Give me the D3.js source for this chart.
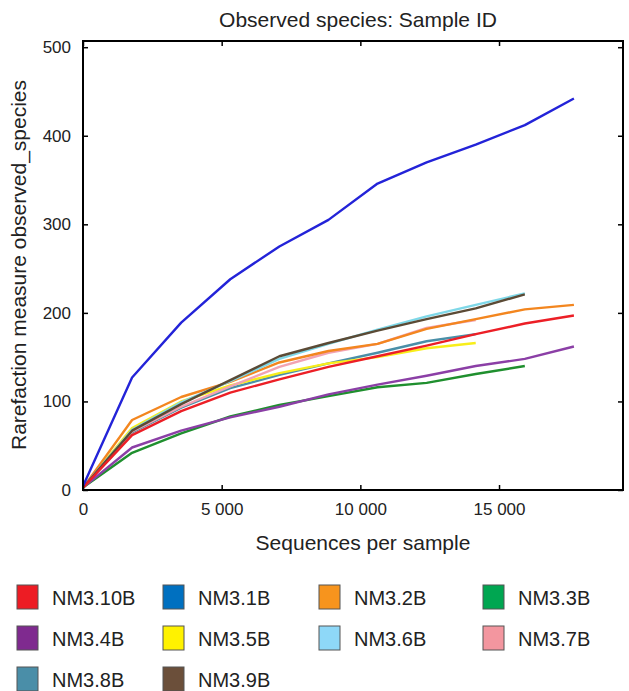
<!DOCTYPE html>
<html lang="en">
<head>
    <meta charset="UTF-8">
    <title>Observed species</title>
    <style>
        body { margin: 0; background: #ffffff; overflow: hidden; }
        svg { font-family: "Liberation Sans", Arial, sans-serif; display: block; }
        .tick text { font-size: 17px; fill: #222; }
        .line { fill: none; stroke-width: 2.4px; stroke-linejoin: round; }
    </style>
</head>
<body>
    <script src="https://d3js.org/d3.v7.min.js"></script>
    <script>
        var width = 629;
        var height = 691;

        // rarefaction depths (sequences per sample)
        var depths = [10, 1770, 3540, 5310, 7080, 8850, 10620, 12390, 14160, 15930, 17700];

        // observed species per depth, one array per sample
        var samples = ["NM3.10B", "NM3.1B", "NM3.2B", "NM3.3B", "NM3.4B",
                       "NM3.5B", "NM3.6B", "NM3.7B", "NM3.8B", "NM3.9B"];
        var nm310b = [3, 62, 89, 110, 125, 139, 151, 163, 176, 188, 197];
        var nm31b  = [5, 127, 189, 238, 275, 305, 346, 370, 390, 412, 442];
        var nm32b  = [3, 79, 105, 122, 144, 157, 165, 182, 193, 204, 209];
        var nm33b  = [3, 42, 64, 83, 96, 106, 116, 121, 131, 140];
        var nm34b  = [3, 48, 67, 82, 94, 108, 119, 129, 140, 148, 162];
        var nm35b  = [3, 70, 100, 118, 132, 143, 150, 160, 166];
        var nm36b  = [3, 68, 99, 123, 148, 165, 181, 196, 209, 222];
        var nm37b  = [3, 66, 94, 117, 139, 155, 165, 183, 192];
        var nm38b  = [3, 65, 93, 115, 130, 143, 155, 168, 176];
        var nm39b  = [3, 67, 97, 124, 151, 166, 180, 193, 205, 221];

        var legendColors = ["#ed1c24", "#0070c0", "#f7941d", "#00a651", "#7f2a8f",
                            "#fff200", "#8ed8f8", "#f3969f", "#4a8ea8", "#6b4f3a"];
        var lineColors = ["#ec1f26", "#2323d8", "#f3861f", "#1f8f2e", "#8b3fa6",
                          "#f8ee1a", "#7fd8e8", "#f2a3b3", "#4a8fa8", "#5b4a35"];

        var xTicks = [0, 5000, 10000, 15000];
        var yTicks = [0, 100, 200, 300, 400, 500];

        var series = [nm310b, nm31b, nm32b, nm33b, nm34b, nm35b, nm36b, nm37b, nm38b, nm39b];

        var margin = { left: 83, right: 623, top: 41, bottom: 490 };

        var x = d3.scaleLinear().domain([0, 19470]).range([margin.left, margin.right]);
        var y = d3.scaleLinear().domain([0, 507]).range([margin.bottom, margin.top]);

        var svg = d3.select('body').append('svg')
            .attr('width', width)
            .attr('height', height);

        // title
        svg.append('text')
            .attr('x', 358).attr('y', 27)
            .attr('text-anchor', 'middle')
            .style('font-size', '21px').style('fill', '#222')
            .text('Observed species: Sample ID');

        // lines, drawn so the upper ones sit on top like the original
        var drawOrder = [3, 4, 8, 5, 7, 2, 6, 9, 0, 1];
        var line = d3.line()
            .x(function(d) { return x(d[0]); })
            .y(function(d) { return y(d[1]); });

        drawOrder.forEach(function(i) {
            var pts = series[i].map(function(v, j) { return [depths[j], v]; });
            svg.append('path')
                .attr('class', 'line')
                .attr('d', line(pts))
                .style('stroke', lineColors[i]);
        });

        // axes, ticks pointing inwards on all four sides
        var fmt = function(d) { return d3.format(',')(d).replace(/,/g, ' '); };

        svg.append('g')
            .attr('transform', 'translate(0,' + margin.bottom + ')')
            .call(d3.axisBottom(x).tickValues(xTicks).tickFormat(fmt).tickSizeInner(-5).tickSizeOuter(0).tickPadding(13))
            .call(function(g) { g.select('.domain').remove(); });
        svg.append('g')
            .attr('transform', 'translate(0,' + margin.top + ')')
            .call(d3.axisTop(x).tickValues(xTicks).tickFormat('').tickSizeInner(-5).tickSizeOuter(0))
            .call(function(g) { g.select('.domain').remove(); });
        svg.append('g')
            .attr('transform', 'translate(' + margin.left + ',0)')
            .call(d3.axisLeft(y).tickValues(yTicks).tickSizeInner(-5).tickSizeOuter(0).tickPadding(12))
            .call(function(g) { g.select('.domain').remove(); });
        svg.append('g')
            .attr('transform', 'translate(' + margin.right + ',0)')
            .call(d3.axisRight(y).tickValues(yTicks).tickFormat('').tickSizeInner(-5).tickSizeOuter(0))
            .call(function(g) { g.select('.domain').remove(); });

        svg.selectAll('.tick line').style('stroke', '#000').style('stroke-width', 1.5);

        svg.append('rect')
            .attr('x', margin.left).attr('y', margin.top)
            .attr('width', margin.right - margin.left)
            .attr('height', margin.bottom - margin.top)
            .style('fill', 'none').style('stroke', '#000').style('stroke-width', 2);

        // axis titles
        svg.append('text')
            .attr('x', 363).attr('y', 550)
            .attr('text-anchor', 'middle')
            .style('font-size', '21px').style('fill', '#222')
            .text('Sequences per sample');

        svg.append('text')
            .attr('transform', 'translate(26,265) rotate(-90)')
            .attr('text-anchor', 'middle')
            .style('font-size', '21px').style('fill', '#222')
            .text('Rarefaction measure observed_species');

        // legend
        var colX = [17, 163, 319, 483];
        var legend = svg.selectAll('.legend')
            .data(samples)
            .enter().append('g')
            .attr('class', 'legend')
            .attr('transform', function(d, i) {
                return 'translate(' + colX[i % 4] + ',' + (585 + Math.floor(i / 4) * 41) + ')';
            });

        legend.append('rect')
            .attr('width', 21).attr('height', 24)
            .style('fill', function(d, i) { return legendColors[i]; })
            .style('stroke', '#555').style('stroke-width', 1);

        legend.append('text')
            .attr('x', 35).attr('y', 20)
            .style('font-size', '20px').style('fill', '#222')
            .text(function(d) { return d; });
    </script>
</body>
</html>
